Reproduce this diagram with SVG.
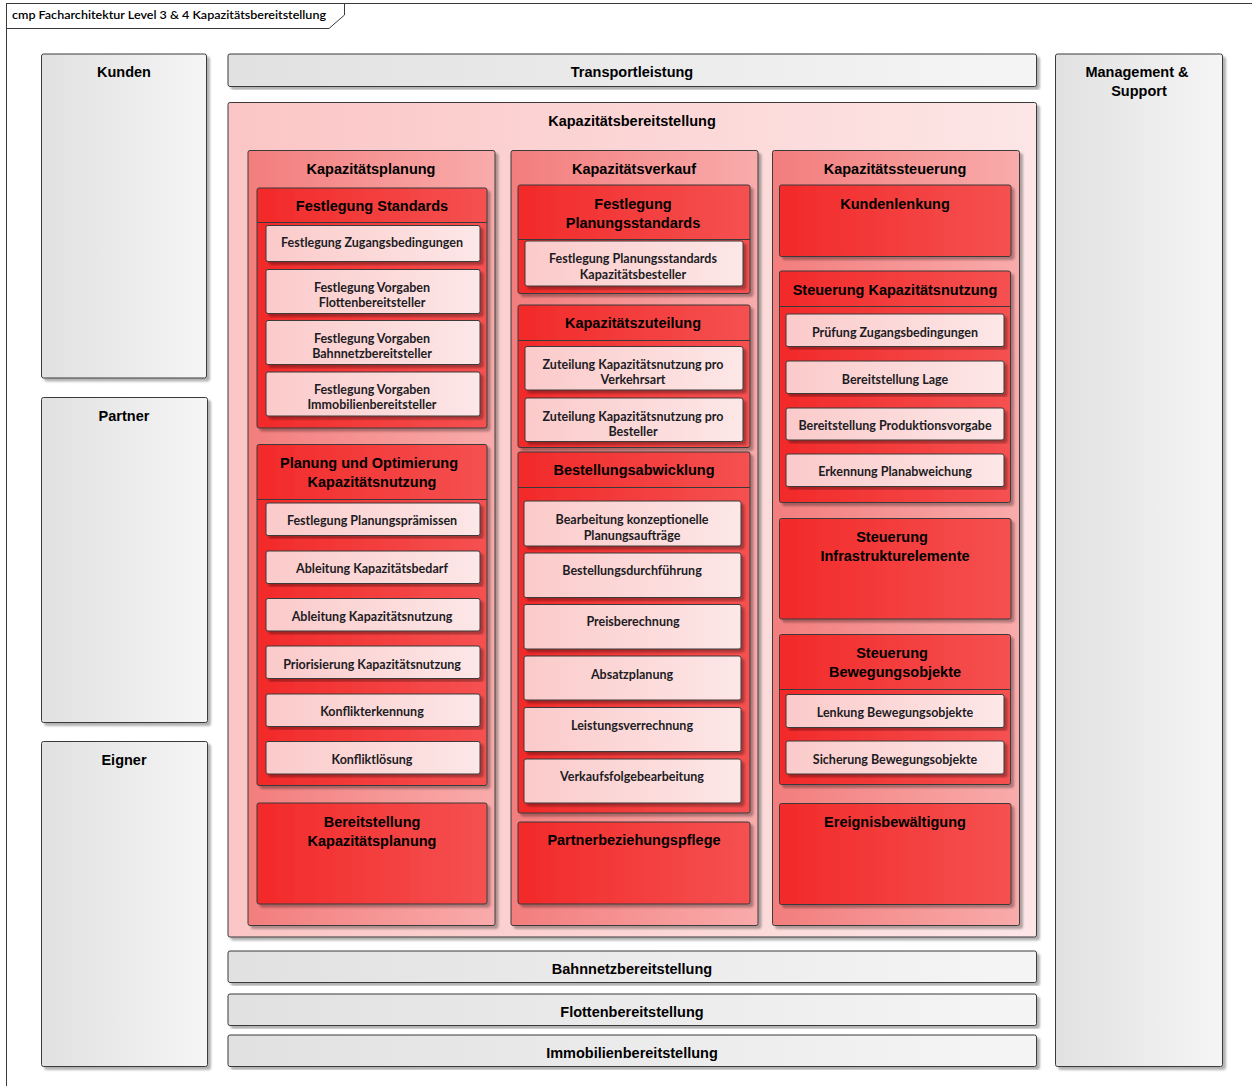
<svg xmlns="http://www.w3.org/2000/svg" width="1252" height="1086" viewBox="0 0 1252 1086">
<defs>
<linearGradient id="gGray" x1="0" y1="0" x2="1" y2="0"><stop offset="0" stop-color="#e1e1e1"/><stop offset="1" stop-color="#f5f5f5"/></linearGradient>
<linearGradient id="gOuter" x1="0" y1="0" x2="1" y2="0"><stop offset="0" stop-color="#fbc5c5"/><stop offset="1" stop-color="#fde6e6"/></linearGradient>
<linearGradient id="gCol" x1="0" y1="0" x2="1" y2="0"><stop offset="0" stop-color="#f37d7d"/><stop offset="1" stop-color="#f9abab"/></linearGradient>
<linearGradient id="gRed" x1="0" y1="0" x2="1" y2="0"><stop offset="0" stop-color="#f22929"/><stop offset="1" stop-color="#f55151"/></linearGradient>
<linearGradient id="gLight" x1="0" y1="0" x2="1" y2="0"><stop offset="0" stop-color="#fbcaca"/><stop offset="1" stop-color="#fde7e7"/></linearGradient>
<filter id="sh" x="-5%" y="-5%" width="115%" height="115%"><feDropShadow dx="3" dy="3" stdDeviation="1.3" flood-color="#000" flood-opacity="0.3"/></filter>
</defs>
<style>
.box{stroke:#3a3a3a;stroke-width:1;filter:url(#sh)}
.gray{fill:url(#gGray)}
.outer{fill:url(#gOuter)}
.col{fill:url(#gCol)}
.red{fill:url(#gRed)}
.light{fill:url(#gLight)}
.sep{stroke:#3a3a3a;stroke-width:1}
.h{font-family:"Liberation Sans",Arial,sans-serif;font-weight:bold;font-size:14.5px;fill:#000;text-anchor:middle}
.c{font-family:Lato,"Open Sans",sans-serif;font-weight:bold;font-size:12.5px;fill:#1c1c24;text-anchor:middle}
.t{font-family:Lato,"Open Sans",sans-serif;font-size:12px;font-weight:600;fill:#000}
</style>
<rect width="1252" height="1086" fill="#fff"/>
<g id="frame">
<rect x="6.5" y="3.5" width="1300" height="1200" fill="none" stroke="#3a3a3a"/>
<path d="M6.5 28.5 H329 L344.5 15 V3.5" fill="none" stroke="#3a3a3a"/>
<text class="t" x="12" y="19" textLength="314" lengthAdjust="spacingAndGlyphs">cmp Facharchitektur Level 3 &amp; 4 Kapazitätsbereitstellung</text>
</g>
<g id="kunden"><rect class="box gray" x="41.5" y="54" width="165" height="324" rx="2"/><text class="h" x="124" y="77">Kunden</text></g>
<g id="partner"><rect class="box gray" x="41.5" y="397.5" width="166" height="325" rx="2"/><text class="h" x="124" y="421">Partner</text></g>
<g id="eigner"><rect class="box gray" x="41.5" y="741.5" width="166" height="325" rx="2"/><text class="h" x="124" y="765">Eigner</text></g>
<g id="management"><rect class="box gray" x="1055.5" y="54" width="167" height="1012.5" rx="2"/><text class="h" x="1137" y="77">Management &amp;</text><text class="h" x="1139" y="96">Support</text></g>
<g id="transportleistung"><rect class="box gray" x="228" y="54" width="808.5" height="32.5" rx="2"/><text class="h" x="632" y="77">Transportleistung</text></g>
<g id="kapazitaetsbereitstellung"><rect class="box outer" x="228" y="102.5" width="808.5" height="834.5" rx="2"/><text class="h" x="632" y="126">Kapazitätsbereitstellung</text></g>
<g id="bahnnetzbereitstellung"><rect class="box gray" x="228" y="951" width="808.5" height="31.5" rx="2"/><text class="h" x="632" y="974">Bahnnetzbereitstellung</text></g>
<g id="flottenbereitstellung"><rect class="box gray" x="228" y="994" width="808.5" height="31.5" rx="2"/><text class="h" x="632" y="1017">Flottenbereitstellung</text></g>
<g id="immobilienbereitstellung"><rect class="box gray" x="228" y="1035" width="808.5" height="31.5" rx="2"/><text class="h" x="632" y="1058">Immobilienbereitstellung</text></g>

<g id="kapazitaetsplanung"><rect class="box col" x="248" y="150.5" width="247" height="775" rx="2"/><text class="h" x="371" y="174">Kapazitätsplanung</text></g>
<g id="kapazitaetsverkauf"><rect class="box col" x="511" y="150.5" width="247" height="775" rx="2"/><text class="h" x="634" y="174">Kapazitätsverkauf</text></g>
<g id="kapazitaetssteuerung"><rect class="box col" x="772.5" y="150.5" width="247" height="775" rx="2"/><text class="h" x="895" y="174">Kapazitätssteuerung</text></g>

<g id="festlegung-standards"><rect class="box red" x="257" y="188" width="230" height="240" rx="2"/><line class="sep" x1="257" y1="222.5" x2="487" y2="222.5"/><text class="h" x="372" y="211">Festlegung Standards</text></g>
<g id="festlegung-zugangsbedingungen"><rect class="box light" x="266" y="225.5" width="214" height="36" rx="2"/><text class="c" x="372" y="247">Festlegung Zugangsbedingungen</text></g>
<g id="vorgaben-flotten"><rect class="box light" x="266" y="269.5" width="214" height="44" rx="2"/><text class="c" x="372" y="292">Festlegung Vorgaben</text><text class="c" x="372" y="307">Flottenbereitsteller</text></g>
<g id="vorgaben-bahnnetz"><rect class="box light" x="266" y="320.5" width="214" height="44" rx="2"/><text class="c" x="372" y="343">Festlegung Vorgaben</text><text class="c" x="372" y="358">Bahnnetzbereitsteller</text></g>
<g id="vorgaben-immobilien"><rect class="box light" x="266" y="372" width="214" height="44" rx="2"/><text class="c" x="372" y="394">Festlegung Vorgaben</text><text class="c" x="372" y="409">Immobilienbereitsteller</text></g>

<g id="planung-optimierung"><rect class="box red" x="257" y="444.5" width="230" height="341" rx="2"/><line class="sep" x1="257" y1="499.5" x2="487" y2="499.5"/><text class="h" x="369" y="468">Planung und Optimierung</text><text class="h" x="372" y="487">Kapazitätsnutzung</text></g>
<g id="planungspraemissen"><rect class="box light" x="266" y="503" width="214" height="32.5" rx="2"/><text class="c" x="372" y="525">Festlegung Planungsprämissen</text></g>
<g id="kapazitaetsbedarf"><rect class="box light" x="266" y="551" width="214" height="32.5" rx="2"/><text class="c" x="372" y="573">Ableitung Kapazitätsbedarf</text></g>
<g id="ableitung-kapazitaetsnutzung"><rect class="box light" x="266" y="598.5" width="214" height="32.5" rx="2"/><text class="c" x="372" y="621">Ableitung Kapazitätsnutzung</text></g>
<g id="priorisierung"><rect class="box light" x="266" y="646" width="214" height="32.5" rx="2"/><text class="c" x="372" y="669">Priorisierung Kapazitätsnutzung</text></g>
<g id="konflikterkennung"><rect class="box light" x="266" y="694" width="214" height="32.5" rx="2"/><text class="c" x="372" y="716">Konflikterkennung</text></g>
<g id="konfliktloesung"><rect class="box light" x="266" y="741.5" width="214" height="32.5" rx="2"/><text class="c" x="372" y="764">Konfliktlösung</text></g>
<g id="bereitstellung-kapazitaetsplanung"><rect class="box red" x="257" y="803" width="230" height="101" rx="2"/><text class="h" x="372" y="827">Bereitstellung</text><text class="h" x="372" y="846">Kapazitätsplanung</text></g>

<g id="festlegung-planungsstandards"><rect class="box red" x="518" y="185" width="232" height="108.5" rx="2"/><line class="sep" x1="518" y1="239.5" x2="750" y2="239.5"/><text class="h" x="633" y="209">Festlegung</text><text class="h" x="633" y="228">Planungsstandards</text></g>
<g id="planungsstandards-besteller"><rect class="box light" x="525" y="241" width="218" height="45" rx="2"/><text class="c" x="633" y="263">Festlegung Planungsstandards</text><text class="c" x="633" y="279">Kapazitätsbesteller</text></g>
<g id="kapazitaetszuteilung"><rect class="box red" x="518" y="305" width="232" height="142.5" rx="2"/><line class="sep" x1="518" y1="340.5" x2="750" y2="340.5"/><text class="h" x="633" y="328">Kapazitätszuteilung</text></g>
<g id="zuteilung-verkehrsart"><rect class="box light" x="525" y="346.5" width="218" height="43.5" rx="2"/><text class="c" x="633" y="369">Zuteilung Kapazitätsnutzung pro</text><text class="c" x="633" y="384">Verkehrsart</text></g>
<g id="zuteilung-besteller"><rect class="box light" x="525" y="398" width="218" height="43.5" rx="2"/><text class="c" x="633" y="421">Zuteilung Kapazitätsnutzung pro</text><text class="c" x="633" y="436">Besteller</text></g>
<g id="bestellungsabwicklung"><rect class="box red" x="518" y="452" width="232" height="361" rx="2"/><line class="sep" x1="518" y1="487.5" x2="750" y2="487.5"/><text class="h" x="634" y="475">Bestellungsabwicklung</text></g>
<g id="planungsauftraege"><rect class="box light" x="524" y="501" width="217" height="45" rx="2"/><text class="c" x="632" y="524">Bearbeitung konzeptionelle</text><text class="c" x="632" y="540">Planungsaufträge</text></g>
<g id="bestellungsdurchfuehrung"><rect class="box light" x="524" y="553" width="217" height="44.5" rx="2"/><text class="c" x="632" y="575">Bestellungsdurchführung</text></g>
<g id="preisberechnung"><rect class="box light" x="524" y="604.5" width="217" height="44.5" rx="2"/><text class="c" x="633" y="626">Preisberechnung</text></g>
<g id="absatzplanung"><rect class="box light" x="524" y="656" width="217" height="44" rx="2"/><text class="c" x="632" y="679">Absatzplanung</text></g>
<g id="leistungsverrechnung"><rect class="box light" x="524" y="707.5" width="217" height="44" rx="2"/><text class="c" x="632" y="730">Leistungsverrechnung</text></g>
<g id="verkaufsfolgebearbeitung"><rect class="box light" x="524" y="759" width="217" height="44" rx="2"/><text class="c" x="632" y="781">Verkaufsfolgebearbeitung</text></g>
<g id="partnerbeziehungspflege"><rect class="box red" x="518" y="822" width="232" height="82" rx="2"/><text class="h" x="634" y="845">Partnerbeziehungspflege</text></g>

<g id="kundenlenkung"><rect class="box red" x="779.5" y="185" width="231.5" height="71.5" rx="2"/><text class="h" x="895" y="209">Kundenlenkung</text></g>
<g id="steuerung-kapazitaetsnutzung"><rect class="box red" x="779.5" y="271" width="231" height="231.5" rx="2"/><line class="sep" x1="779.5" y1="306.5" x2="1010.5" y2="306.5"/><text class="h" x="895" y="295">Steuerung Kapazitätsnutzung</text></g>
<g id="pruefung-zugangsbedingungen"><rect class="box light" x="786" y="314" width="218" height="32.5" rx="2"/><text class="c" x="895" y="337">Prüfung Zugangsbedingungen</text></g>
<g id="bereitstellung-lage"><rect class="box light" x="786" y="361" width="218" height="32.5" rx="2"/><text class="c" x="895" y="384">Bereitstellung Lage</text></g>
<g id="bereitstellung-produktionsvorgabe"><rect class="box light" x="786" y="408" width="218" height="32" rx="2"/><text class="c" x="895" y="430">Bereitstellung Produktionsvorgabe</text></g>
<g id="erkennung-planabweichung"><rect class="box light" x="786" y="454" width="218" height="32.5" rx="2"/><text class="c" x="895" y="476">Erkennung Planabweichung</text></g>
<g id="steuerung-infrastrukturelemente"><rect class="box red" x="779.5" y="518.5" width="231.5" height="100.5" rx="2"/><text class="h" x="892" y="542">Steuerung</text><text class="h" x="895" y="561">Infrastrukturelemente</text></g>
<g id="steuerung-bewegungsobjekte"><rect class="box red" x="779.5" y="634.5" width="231" height="150" rx="2"/><line class="sep" x1="779.5" y1="689.5" x2="1010.5" y2="689.5"/><text class="h" x="892" y="658">Steuerung</text><text class="h" x="895" y="677">Bewegungsobjekte</text></g>
<g id="lenkung-bewegungsobjekte"><rect class="box light" x="786" y="694.5" width="218" height="33" rx="2"/><text class="c" x="895" y="717">Lenkung Bewegungsobjekte</text></g>
<g id="sicherung-bewegungsobjekte"><rect class="box light" x="786" y="741" width="218" height="33" rx="2"/><text class="c" x="895" y="764">Sicherung Bewegungsobjekte</text></g>
<g id="ereignisbewaeltigung"><rect class="box red" x="779.5" y="803.5" width="231.5" height="101" rx="2"/><text class="h" x="895" y="827">Ereignisbewältigung</text></g>
<g id="connectors"/>
</svg>
